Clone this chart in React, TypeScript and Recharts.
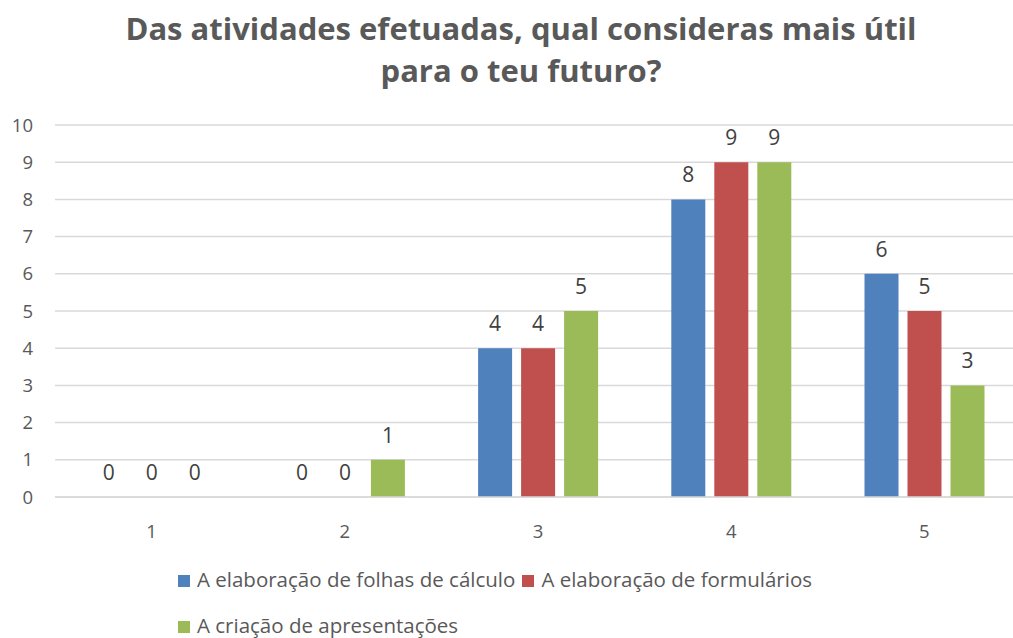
import React from 'react';
import {
  BarChart,
  Bar,
  Cell,
  XAxis,
  YAxis,
  CartesianGrid,
  LabelList,
} from 'recharts';

const categories = ['1', '2', '3', '4', '5'];
const folhasCalculo = [0, 0, 4, 8, 6];
const formularios = [0, 0, 4, 9, 5];
const apresentacoes = [0, 1, 5, 9, 3];
const yTicks = [0, 1, 2, 3, 4, 5, 6, 7, 8, 9, 10];

const seriesNames = [
  'A elaboração de folhas de cálculo',
  'A elaboração de formulários',
  'A criação de apresentações',
];
const seriesColors = ['#4F81BD', '#C0504D', '#9BBB59'];
const seriesValues = [folhasCalculo, formularios, apresentacoes];

const title = ['Das atividades efetuadas, qual consideras mais útil', 'para o teu futuro?'];

const FONT = '"Open Sans", "Noto Sans", sans-serif';
const TEXT = '#595959';

const data = categories.map((c, i) => ({
  name: c,
  s0: folhasCalculo[i],
  s1: formularios[i],
  s2: apresentacoes[i],
}));

// labels drawn ourselves so the zero bars still get their "0"
const renderValue = (props: any) => {
  const { x, y, width, height, value } = props;
  const top = Math.min(Number(y), Number(y) + Number(height));
  return (
    <text
      x={Number(x) + Number(width) / 2}
      y={top - 17}
      textAnchor="middle"
      fill="#404040"
      fontSize={21}
      fontFamily={FONT}
    >
      {value}
    </text>
  );
};

const App: React.FC = () => {
  return (
    <div
      style={{
        position: 'absolute',
        left: 0,
        top: 0,
        width: 1013,
        height: 638,
        overflow: 'hidden',
        background: '#fff',
      }}
    >
      <div
        style={{
          position: 'absolute',
          left: 0,
          width: 1042,
          top: 7,
          textAlign: 'center',
          fontFamily: FONT,
          fontWeight: 700,
          fontSize: 31,
          lineHeight: '42px',
          color: TEXT,
        }}
      >
        {title.map((t) => (
          <div key={t}>{t}</div>
        ))}
      </div>
      <BarChart
        width={1021}
        height={638}
        data={data}
        margin={{ top: 125, right: 0, left: 0, bottom: 111 }}
        barCategoryGap="19%"
        barGap={9}
      >
        <CartesianGrid vertical={false} stroke="#D9D9D9" strokeWidth={1.5} />
        <XAxis
          dataKey="name"
          height={30}
          tickLine={false}
          axisLine={{ stroke: '#D9D9D9', strokeWidth: 1.5 }}
          tick={{ fill: TEXT, fontSize: 18.5, fontFamily: FONT }}
          tickMargin={22}
        />
        <YAxis
          width={55}
          domain={[0, 10]}
          ticks={yTicks}
          interval={0}
          tickLine={false}
          axisLine={false}
          tick={{ fill: TEXT, fontSize: 18.5, fontFamily: FONT }}
          tickMargin={16}
        />
        {['s0', 's1', 's2'].map((key, k) => (
          <Bar
            key={key}
            dataKey={key}
            name={seriesNames[k]}
            fill={seriesColors[k]}
            minPointSize={(v: number) => (v === 0 ? 0.5 : 0)}
            isAnimationActive={false}
          >
            {seriesValues[k].map((v, i) => (
              <Cell key={i} fill={v === 0 ? 'transparent' : seriesColors[k]} />
            ))}
            <LabelList dataKey={key} content={renderValue} />
          </Bar>
        ))}
      </BarChart>
      <div
        style={{
          position: 'absolute',
          left: 178,
          top: 556,
          fontFamily: FONT,
          fontSize: 20.5,
          color: TEXT,
          lineHeight: '46px',
        }}
      >
        {[[0, 1], [2]].map((row, r) => (
          <div key={r} style={{ height: 46, whiteSpace: 'nowrap' }}>
            {row.map((k) => (
              <span key={k} style={{ marginRight: 7 }}>
                <span
                  style={{
                    display: 'inline-block',
                    width: 12,
                    height: 12,
                    background: seriesColors[k],
                    marginRight: 7,
                    verticalAlign: 'middle',
                    position: 'relative',
                    top: -1,
                  }}
                />
                {seriesNames[k]}
              </span>
            ))}
          </div>
        ))}
      </div>
    </div>
  );
};

export default App;
